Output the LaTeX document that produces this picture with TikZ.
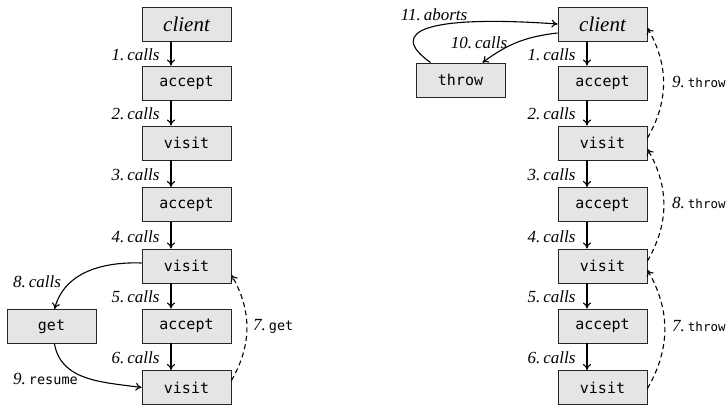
\documentclass[tikz,border=0pt]{standalone}
\usepackage{fontspec}
\setmainfont{Liberation Serif}
\setmonofont{DejaVu Sans Mono}
\usetikzlibrary{arrows.meta}
\begin{document}
\begin{tikzpicture}[x=1pt,y=1pt,
  box/.style={draw=black!85, fill=black!10, line width=0.9pt, minimum width=89pt, minimum height=34pt, inner sep=0pt, font=\fontsize{15}{18}\selectfont\ttfamily},
  cbox/.style={box, font=\fontsize{21}{24}\selectfont\itshape},
  lab/.style={font=\fontsize{17}{20}\selectfont\itshape, inner sep=1pt},
  call/.style={-{To[length=6pt,width=8pt]}, line width=1.1pt},
  back/.style={call, dash pattern=on 5pt off 3.5pt},
  down/.style={xshift=-15.5pt}]
\useasboundingbox (0,0) rectangle (728,-407);
% left column
\node[cbox] (c1) at (186.5,-24) {client};
\node[box] (a1) at (186.5,-83) {accept};
\node[box] (v1) at (186.5,-143) {visit};
\node[box] (a2) at (186.5,-204.5) {accept};
\node[box] (v2) at (186.5,-266) {visit};
\node[box] (a3) at (186.5,-326) {accept};
\node[box] (v3) at (186.5,-387.5) {visit};
\node[box] (get) at (51.5,-326.5) {get};
\draw[call] ([down]c1.south) -- node[lab, left=10pt, yshift=-1pt] {1.\hspace{3pt}calls} ([down]a1.north);
\draw[call] ([down]a1.south) -- node[lab, left=10pt, yshift=-1pt] {2.\hspace{3pt}calls} ([down]v1.north);
\draw[call] ([down]v1.south) -- node[lab, left=10pt, yshift=-1pt] {3.\hspace{3pt}calls} ([down]a2.north);
\draw[call] ([down]a2.south) -- node[lab, left=10pt, yshift=-1pt] {4.\hspace{3pt}calls} ([down]v2.north);
\draw[call] ([down]v2.south) -- node[lab, left=10pt, yshift=-1pt] {5.\hspace{3pt}calls} ([down]a3.north);
\draw[call] ([down]a3.south) -- node[lab, left=10pt, yshift=-1pt] {6.\hspace{3pt}calls} ([down]v3.north);
\draw[call] ([yshift=3pt]v2.west) to[out=178,in=75] ([xshift=3pt]get.north);
\node[lab] (l8) at (37,-282) {8.\hspace{3pt}calls};
\draw[call] ([xshift=3pt]get.south) to[out=-80,in=172] (v3.west);
\node[lab] (l9) at (45.5,-379) {9.\hspace{3pt}\textup{\fontsize{13.5}{16}\selectfont\ttfamily resume}};
\draw[back] ([yshift=7pt]v3.east) to[bend right=30] ([yshift=-9pt]v2.east);
\node[lab, anchor=west] (l7) at (252,-326) {7.\hspace{3pt}\textup{\fontsize{13.5}{16}\selectfont\ttfamily get}};
% right column
\node[cbox] (C) at (602.5,-24) {client};
\node[box] (A1) at (602.5,-83) {accept};
\node[box] (V1) at (602.5,-143) {visit};
\node[box] (A2) at (602.5,-204.5) {accept};
\node[box] (V2) at (602.5,-266) {visit};
\node[box] (A3) at (602.5,-326) {accept};
\node[box] (V3) at (602.5,-387.5) {visit};
\node[box] (throw) at (460.5,-80) {throw};
\draw[call] ([down]C.south) -- node[lab, left=10pt, yshift=-1pt] {1.\hspace{3pt}calls} ([down]A1.north);
\draw[call] ([down]A1.south) -- node[lab, left=10pt, yshift=-1pt] {2.\hspace{3pt}calls} ([down]V1.north);
\draw[call] ([down]V1.south) -- node[lab, left=10pt, yshift=-1pt] {3.\hspace{3pt}calls} ([down]A2.north);
\draw[call] ([down]A2.south) -- node[lab, left=10pt, yshift=-1pt] {4.\hspace{3pt}calls} ([down]V2.north);
\draw[call] ([down]V2.south) -- node[lab, left=10pt, yshift=-1pt] {5.\hspace{3pt}calls} ([down]A3.north);
\draw[call] ([down]A3.south) -- node[lab, left=10pt, yshift=-1pt] {6.\hspace{3pt}calls} ([down]V3.north);
\draw[back] ([yshift=5pt]V1.east) to[bend right=30] ([yshift=-4pt]C.east);
\draw[back] ([yshift=5pt]V2.east) to[bend right=30] ([yshift=-6pt]V1.east);
\draw[back] ([yshift=-1pt]V3.east) to[bend right=30] ([yshift=-4pt]V2.east);
\node[lab, anchor=west] (t9) at (671,-82) {9.\hspace{3pt}\textup{\fontsize{12.5}{15}\selectfont\ttfamily throw}};
\node[lab, anchor=west] (t8) at (671,-203) {8.\hspace{3pt}\textup{\fontsize{12.5}{15}\selectfont\ttfamily throw}};
\node[lab, anchor=west] (t7) at (671,-326) {7.\hspace{3pt}\textup{\fontsize{12.5}{15}\selectfont\ttfamily throw}};
\draw[call] ([yshift=-9pt]C.west) to[bend right=15] ([xshift=22pt]throw.north);
\node[lab] (l10) at (479,-43) {10.\hspace{3pt}calls};
\draw[call] ([xshift=-30pt]throw.north) .. controls (385,-30) and (430,-15) .. (C.west);
\node[lab] (l11) at (434,-15) {11.\hspace{3pt}aborts};
\end{tikzpicture}
\end{document}
